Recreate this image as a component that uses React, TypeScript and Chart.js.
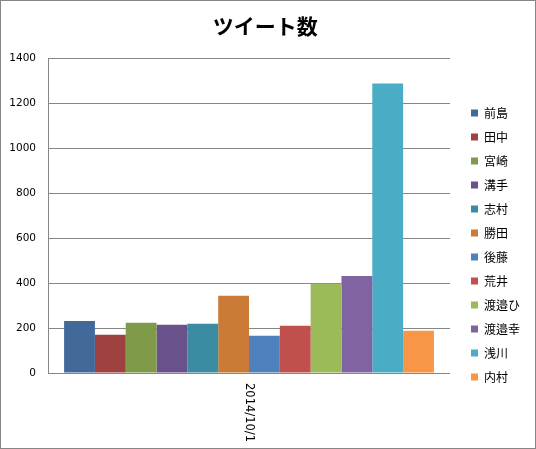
import React, { useEffect, useRef } from "react";
import { Chart, registerables } from "chart.js";

Chart.register(...registerables);

const titleText = "ツイート数";
const categories = ["2014/10/1"];
const seriesNames = ["前島", "田中", "宮崎", "溝手", "志村", "勝田", "後藤", "荒井", "渡邉ひ", "渡邉幸", "浅川", "内村"];
const seriesValues = [232, 170, 224, 215, 219, 344, 166, 210, 398, 432, 1290, 188];
const seriesColors = [
  "#416A9B", "#9F413E", "#7F9A48", "#69518B", "#3B8CA2", "#CC7B37",
  "#4F81BD", "#C0504D", "#9BBB59", "#8064A2", "#4BACC6", "#F79646",
];
const yMin = 0;
const yMax = 1400;
const yStep = 200;

const GRID = "#868686";

const layoutTweak = {
  id: "layoutTweak",
  afterLayout(chart: any) {
    const l = chart.legend;
    if (!l) return;
    const w = l.width;
    const h = l.height;
    l.left = 458;
    l.right = 458 + w;
    l.top = 94;
    l.bottom = 94 + h;
  },
  afterDraw(chart: any) {
    const ctx = chart.ctx;
    const xs = chart.scales.x;
    const area = chart.chartArea;
    ctx.save();
    ctx.font = "11.5px 'DejaVu Sans', Verdana, sans-serif";
    ctx.fillStyle = "#000";
    ctx.textAlign = "left";
    ctx.textBaseline = "middle";
    categories.forEach((c, i) => {
      ctx.save();
      ctx.translate(xs.getPixelForValue(i), area.bottom + 10);
      ctx.rotate(Math.PI / 2);
      ctx.fillText(c, 0, 0);
      ctx.restore();
    });
    ctx.restore();
  },
};

export default function App() {
  const ref = useRef<HTMLCanvasElement>(null);
  useEffect(() => {
    if (!ref.current) return;
    const chart = new Chart(ref.current, {
      type: "bar",
      data: {
        labels: categories,
        datasets: seriesNames.map((name, i) => ({
          label: name,
          data: [seriesValues[i]],
          backgroundColor: seriesColors[i],
          borderWidth: 0,
          categoryPercentage: 0.92,
          barPercentage: 1,
        })),
      },
      options: {
        animation: false,
        responsive: false,
        devicePixelRatio: 1,
        layout: { padding: { left: 8.3, right: 14, top: 0, bottom: 75 } },
        plugins: {
          title: {
            display: true,
            text: titleText,
            color: "#000",
            font: { family: "'Noto Sans CJK JP', sans-serif", size: 21, weight: "bold" },
            padding: { top: 12.5, bottom: 20 },
          },
          legend: {
            position: "right",
            align: "start",
            labels: {
              boxWidth: 7,
              boxHeight: 7,
              padding: 12,
              color: "#000",
              font: { family: "'Noto Sans CJK JP', sans-serif", size: 12 },
            },
          },
          tooltip: { enabled: false },
        },
        scales: {
          x: {
            grid: { display: false, drawTicks: false },
            ticks: { display: false },
            border: { display: true, color: GRID, width: 1 },
          },
          y: {
            min: yMin,
            max: yMax,
            grid: { color: GRID, lineWidth: 1, drawTicks: false },
            border: { display: true, color: GRID, width: 1 },
            afterFit: (s: any) => {
              s.width = s.width - 12;
            },
            ticks: {
              stepSize: yStep,
              padding: 12,
              color: "#000",
              font: { family: "'DejaVu Sans', Verdana, sans-serif", size: 10.5 },
              callback: (v: any) => String(v),
            },
          },
        },
      },
      plugins: [layoutTweak],
    });
    return () => chart.destroy();
  }, []);
  return (
    <div
      style={{
        position: "absolute",
        left: 0,
        top: 0,
        width: 536,
        height: 449,
        boxSizing: "border-box",
        border: "1px solid #868686",
        background: "#fff",
      }}
    >
      <canvas ref={ref} width={534} height={447} style={{ display: "block" }} />
    </div>
  );
}
